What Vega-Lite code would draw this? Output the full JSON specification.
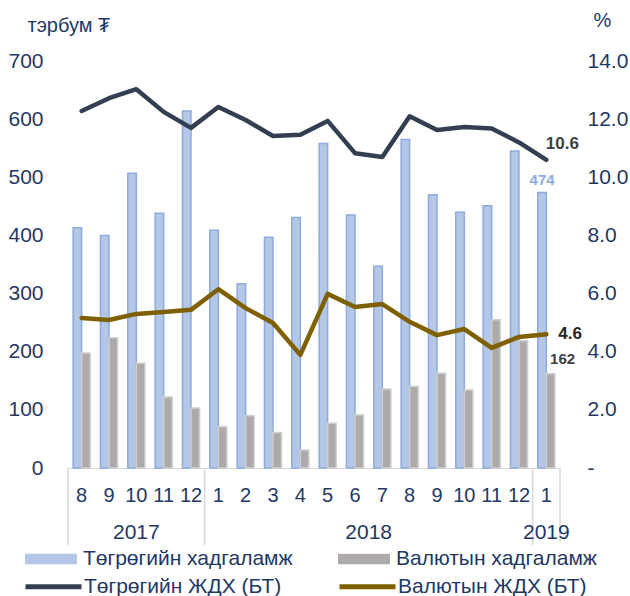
{
  "$schema": "https://vega.github.io/schema/vega-lite/v6.json",
  "width": 492,
  "height": 407,
  "autosize": "none",
  "padding": {"left": 68, "top": 61, "right": 70, "bottom": 128},
  "config": {
    "font": "Liberation Sans",
    "view": {"stroke": null},
    "axis": {"labelFont": "Liberation Sans", "labelColor": "#1f3864", "labelFontSize": 21, "grid": false, "ticks": false, "domain": false, "titleFont": "Liberation Sans", "titleColor": "#1f3864", "titleFontSize": 20, "titleFontWeight": "normal"},
    "legend": {"labelFont": "Liberation Sans", "labelColor": "#1f3864", "labelFontSize": 21, "labelLimit": 400}
  },
  "datasets": {
    "dep": [
      {"key": "2017-08", "s": "Төгрөгийн хадгаламж", "v": 413},
      {"key": "2017-09", "s": "Төгрөгийн хадгаламж", "v": 400},
      {"key": "2017-10", "s": "Төгрөгийн хадгаламж", "v": 507},
      {"key": "2017-11", "s": "Төгрөгийн хадгаламж", "v": 438},
      {"key": "2017-12", "s": "Төгрөгийн хадгаламж", "v": 614},
      {"key": "2018-01", "s": "Төгрөгийн хадгаламж", "v": 409},
      {"key": "2018-02", "s": "Төгрөгийн хадгаламж", "v": 317},
      {"key": "2018-03", "s": "Төгрөгийн хадгаламж", "v": 397},
      {"key": "2018-04", "s": "Төгрөгийн хадгаламж", "v": 431},
      {"key": "2018-05", "s": "Төгрөгийн хадгаламж", "v": 558},
      {"key": "2018-06", "s": "Төгрөгийн хадгаламж", "v": 435},
      {"key": "2018-07", "s": "Төгрөгийн хадгаламж", "v": 347},
      {"key": "2018-08", "s": "Төгрөгийн хадгаламж", "v": 565},
      {"key": "2018-09", "s": "Төгрөгийн хадгаламж", "v": 470},
      {"key": "2018-10", "s": "Төгрөгийн хадгаламж", "v": 440},
      {"key": "2018-11", "s": "Төгрөгийн хадгаламж", "v": 451},
      {"key": "2018-12", "s": "Төгрөгийн хадгаламж", "v": 545},
      {"key": "2019-01", "s": "Төгрөгийн хадгаламж", "v": 474},
      {"key": "2017-08", "s": "Валютын хадгаламж", "v": 198},
      {"key": "2017-09", "s": "Валютын хадгаламж", "v": 224},
      {"key": "2017-10", "s": "Валютын хадгаламж", "v": 180},
      {"key": "2017-11", "s": "Валютын хадгаламж", "v": 122},
      {"key": "2017-12", "s": "Валютын хадгаламж", "v": 103},
      {"key": "2018-01", "s": "Валютын хадгаламж", "v": 71},
      {"key": "2018-02", "s": "Валютын хадгаламж", "v": 90},
      {"key": "2018-03", "s": "Валютын хадгаламж", "v": 61},
      {"key": "2018-04", "s": "Валютын хадгаламж", "v": 31},
      {"key": "2018-05", "s": "Валютын хадгаламж", "v": 77},
      {"key": "2018-06", "s": "Валютын хадгаламж", "v": 91},
      {"key": "2018-07", "s": "Валютын хадгаламж", "v": 136},
      {"key": "2018-08", "s": "Валютын хадгаламж", "v": 140},
      {"key": "2018-09", "s": "Валютын хадгаламж", "v": 163},
      {"key": "2018-10", "s": "Валютын хадгаламж", "v": 134},
      {"key": "2018-11", "s": "Валютын хадгаламж", "v": 255},
      {"key": "2018-12", "s": "Валютын хадгаламж", "v": 219},
      {"key": "2019-01", "s": "Валютын хадгаламж", "v": 162}
    ],
    "rate": [
      {"key": "2017-08", "s": "Төгрөгийн ЖДХ (БТ)", "v": 12.28},
      {"key": "2017-09", "s": "Төгрөгийн ЖДХ (БТ)", "v": 12.72},
      {"key": "2017-10", "s": "Төгрөгийн ЖДХ (БТ)", "v": 13.03},
      {"key": "2017-11", "s": "Төгрөгийн ЖДХ (БТ)", "v": 12.25},
      {"key": "2017-12", "s": "Төгрөгийн ЖДХ (БТ)", "v": 11.7},
      {"key": "2018-01", "s": "Төгрөгийн ЖДХ (БТ)", "v": 12.42},
      {"key": "2018-02", "s": "Төгрөгийн ЖДХ (БТ)", "v": 11.97},
      {"key": "2018-03", "s": "Төгрөгийн ЖДХ (БТ)", "v": 11.42},
      {"key": "2018-04", "s": "Төгрөгийн ЖДХ (БТ)", "v": 11.46},
      {"key": "2018-05", "s": "Төгрөгийн ЖДХ (БТ)", "v": 11.94},
      {"key": "2018-06", "s": "Төгрөгийн ЖДХ (БТ)", "v": 10.83},
      {"key": "2018-07", "s": "Төгрөгийн ЖДХ (БТ)", "v": 10.7},
      {"key": "2018-08", "s": "Төгрөгийн ЖДХ (БТ)", "v": 12.1},
      {"key": "2018-09", "s": "Төгрөгийн ЖДХ (БТ)", "v": 11.63},
      {"key": "2018-10", "s": "Төгрөгийн ЖДХ (БТ)", "v": 11.73},
      {"key": "2018-11", "s": "Төгрөгийн ЖДХ (БТ)", "v": 11.68},
      {"key": "2018-12", "s": "Төгрөгийн ЖДХ (БТ)", "v": 11.2},
      {"key": "2019-01", "s": "Төгрөгийн ЖДХ (БТ)", "v": 10.6},
      {"key": "2017-08", "s": "Валютын ЖДХ (БТ)", "v": 5.16},
      {"key": "2017-09", "s": "Валютын ЖДХ (БТ)", "v": 5.09},
      {"key": "2017-10", "s": "Валютын ЖДХ (БТ)", "v": 5.3},
      {"key": "2017-11", "s": "Валютын ЖДХ (БТ)", "v": 5.37},
      {"key": "2017-12", "s": "Валютын ЖДХ (БТ)", "v": 5.44},
      {"key": "2018-01", "s": "Валютын ЖДХ (БТ)", "v": 6.15},
      {"key": "2018-02", "s": "Валютын ЖДХ (БТ)", "v": 5.5},
      {"key": "2018-03", "s": "Валютын ЖДХ (БТ)", "v": 4.99},
      {"key": "2018-04", "s": "Валютын ЖДХ (БТ)", "v": 3.89},
      {"key": "2018-05", "s": "Валютын ЖДХ (БТ)", "v": 5.99},
      {"key": "2018-06", "s": "Валютын ЖДХ (БТ)", "v": 5.54},
      {"key": "2018-07", "s": "Валютын ЖДХ (БТ)", "v": 5.64},
      {"key": "2018-08", "s": "Валютын ЖДХ (БТ)", "v": 5.03},
      {"key": "2018-09", "s": "Валютын ЖДХ (БТ)", "v": 4.57},
      {"key": "2018-10", "s": "Валютын ЖДХ (БТ)", "v": 4.78},
      {"key": "2018-11", "s": "Валютын ЖДХ (БТ)", "v": 4.13},
      {"key": "2018-12", "s": "Валютын ЖДХ (БТ)", "v": 4.51},
      {"key": "2019-01", "s": "Валютын ЖДХ (БТ)", "v": 4.6}
    ],
    "sep": [
      {"key": "2017-08"},
      {"key": "2018-01"},
      {"key": "2019-01"}
    ],
    "yr": [
      {"key": "2017-10", "t": "2017"},
      {"key": "2018-06", "t": "2018"},
      {"key": "2019-01", "t": "2019"}
    ]
  },
  "layer": [
    {
      "layer": [
        {
          "data": {"name": "dep"},
          "mark": {"type": "bar", "strokeWidth": 1.5},
          "encoding": {
            "x": {"field": "key", "type": "nominal", "title": null,
              "scale": {"paddingInner": 0, "paddingOuter": 0},
              "axis": {"domain": true, "domainColor": "#d9d9d9", "domainWidth": 1, "labelAngle": 0, "labelFontSize": 20, "labelPadding": 17, "labelExpr": "'' + toNumber(split(datum.label, '-')[1])"}},
            "xOffset": {"field": "s", "type": "nominal", "scale": {"domain": ["Төгрөгийн хадгаламж", "Валютын хадгаламж"], "paddingInner": 0, "paddingOuter": 0.6}},
            "y": {"field": "v", "type": "quantitative", "scale": {"domain": [0, 700]},
              "axis": {"values": [0, 100, 200, 300, 400, 500, 600, 700], "labelPadding": 25, "title": "тэрбум ₮", "titleAngle": 0, "titleX": -41, "titleY": -36, "titleAlign": "left", "titleBaseline": "middle"}},
            "fill": {"field": "s", "type": "nominal",
              "scale": {"domain": ["Төгрөгийн хадгаламж", "Валютын хадгаламж"], "range": ["#b4c7e7", "#aeaaaa"]},
              "legend": {"orient": "none", "legendX": -43, "legendY": 472, "direction": "horizontal", "columns": 2, "title": null, "symbolType": "M-1,-0.2H1V0.2H-1Z", "symbolSize": 2704, "symbolStrokeWidth": 0, "symbolOpacity": 1, "labelOffset": 6, "columnPadding": 45}},
            "stroke": {"condition": {"test": "datum.s === 'Төгрөгийн хадгаламж'", "value": "#8faadc"}, "value": "#d0cece"}
          }
        },
        {
          "data": {"name": "dep"},
          "transform": [{"filter": "datum.key === '2019-01' && datum.s === 'Төгрөгийн хадгаламж'"}],
          "mark": {"type": "text", "fontSize": 15, "fontWeight": "bold", "color": "#8faadc", "dy": -12, "baseline": "middle"},
          "encoding": {
            "x": {"field": "key", "type": "nominal"},
            "xOffset": {"field": "s", "type": "nominal"},
            "y": {"field": "v", "type": "quantitative"},
            "text": {"field": "v", "type": "quantitative"}
          }
        },
        {
          "data": {"name": "dep"},
          "transform": [{"filter": "datum.key === '2019-01' && datum.s === 'Валютын хадгаламж'"}],
          "mark": {"type": "text", "fontSize": 15, "fontWeight": "bold", "color": "#404040", "dx": 12, "dy": -15, "baseline": "middle"},
          "encoding": {
            "x": {"field": "key", "type": "nominal"},
            "xOffset": {"field": "s", "type": "nominal"},
            "y": {"field": "v", "type": "quantitative"},
            "text": {"field": "v", "type": "quantitative"}
          }
        }
      ]
    },
    {
      "layer": [
        {
          "data": {"name": "rate"},
          "mark": {"type": "line", "strokeWidth": 4.5, "strokeJoin": "round", "strokeCap": "round"},
          "encoding": {
            "x": {"field": "key", "type": "nominal"},
            "y": {"field": "v", "type": "quantitative", "scale": {"domain": [0, 14]},
              "axis": {"orient": "right", "values": [0, 2, 4, 6, 8, 10, 12, 14], "labelPadding": 27, "labelAlign": "left", "labelExpr": "datum.value == 0 ? '-' : format(datum.value, '.1f')", "title": "%", "titleAngle": 0, "titleX": 42, "titleY": -41, "titleAlign": "center", "titleBaseline": "middle"}},
            "stroke": {"field": "s", "type": "nominal",
              "scale": {"domain": ["Төгрөгийн ЖДХ (БТ)", "Валютын ЖДХ (БТ)"], "range": ["#333f50", "#7f6000"]},
              "legend": {"orient": "none", "legendX": -45, "legendY": 495, "direction": "horizontal", "columns": 2, "title": null, "symbolType": "stroke", "symbolSize": 3136, "symbolStrokeWidth": 5, "labelOffset": 0, "columnPadding": 47}}
          }
        },
        {
          "data": {"name": "rate"},
          "transform": [{"filter": "datum.key === '2019-01' && datum.s === 'Төгрөгийн ЖДХ (БТ)'"}],
          "mark": {"type": "text", "fontSize": 17, "fontWeight": "bold", "color": "#404040", "dx": 16, "dy": -16, "baseline": "middle"},
          "encoding": {
            "x": {"field": "key", "type": "nominal"},
            "y": {"field": "v", "type": "quantitative"},
            "text": {"field": "v", "type": "quantitative", "format": ".1f"}
          }
        },
        {
          "data": {"name": "rate"},
          "transform": [{"filter": "datum.key === '2019-01' && datum.s === 'Валютын ЖДХ (БТ)'"}],
          "mark": {"type": "text", "fontSize": 17, "fontWeight": "bold", "color": "#262626", "dx": 12, "dy": 0, "align": "left", "baseline": "middle"},
          "encoding": {
            "x": {"field": "key", "type": "nominal"},
            "y": {"field": "v", "type": "quantitative"},
            "text": {"field": "v", "type": "quantitative", "format": ".1f"}
          }
        }
      ]
    },
    {
      "data": {"name": "sep"},
      "mark": {"type": "rule", "color": "#d9d9d9", "strokeWidth": 1.5},
      "encoding": {
        "x": {"field": "key", "type": "nominal", "bandPosition": 0},
        "y": {"value": 407},
        "y2": {"value": 484}
      }
    },
    {
      "data": {"name": "sep"},
      "transform": [{"filter": "datum.key === '2019-01'"}],
      "mark": {"type": "rule", "color": "#d9d9d9", "strokeWidth": 1.5},
      "encoding": {
        "x": {"field": "key", "type": "nominal", "bandPosition": 1},
        "y": {"value": 407},
        "y2": {"value": 481}
      }
    },
    {
      "data": {"name": "yr"},
      "transform": [{"filter": "datum.t !== '2018'"}],
      "mark": {"type": "text", "fontSize": 21, "color": "#1f3864", "baseline": "middle"},
      "encoding": {
        "x": {"field": "key", "type": "nominal", "bandPosition": 0.5},
        "y": {"value": 472},
        "text": {"field": "t"}
      }
    },
    {
      "data": {"name": "yr"},
      "transform": [{"filter": "datum.t === '2018'"}],
      "mark": {"type": "text", "fontSize": 21, "color": "#1f3864", "baseline": "middle"},
      "encoding": {
        "x": {"field": "key", "type": "nominal", "bandPosition": 1},
        "y": {"value": 472},
        "text": {"field": "t"}
      }
    }
  ],
  "resolve": {"scale": {"y": "independent"}}
}
